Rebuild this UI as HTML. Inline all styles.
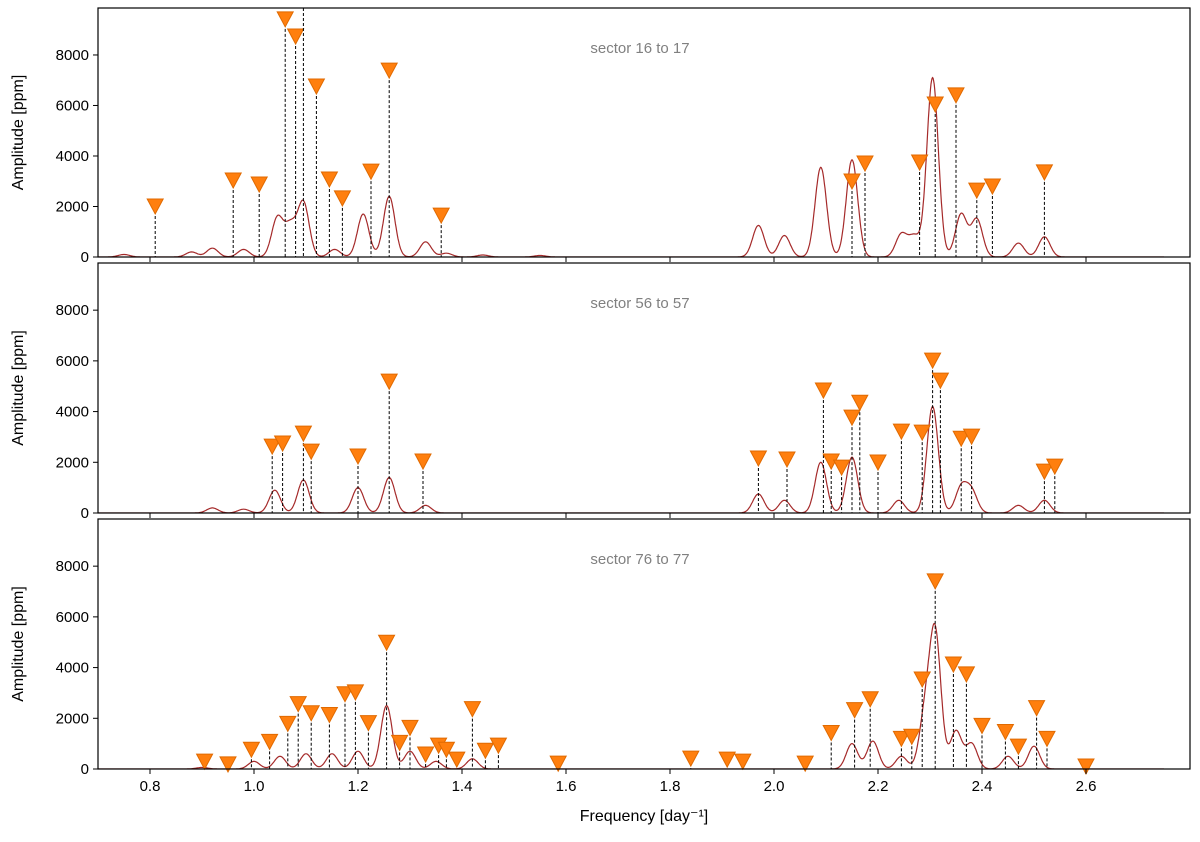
<!DOCTYPE html>
<html><head><meta charset="utf-8">
<style>
body{margin:0;background:#fff;}
svg text{font-family:"Liberation Sans","DejaVu Sans",sans-serif;}
</style></head>
<body>
<svg id="chart" width="1200" height="837" xmlns="http://www.w3.org/2000/svg"></svg>
<script>
const xTicks=[0.8,1.0,1.2,1.4,1.6,1.8,2.0,2.2,2.4,2.6];
const yTicks=[0,2000,4000,6000,8000];
const panelTitles=["sector 16 to 17","sector 56 to 57","sector 76 to 77"];
// spectrum peaks (freq, amp) per panel
const peakFreq1=[0.75,0.88,0.92,0.98,1.045,1.07,1.095,1.155,1.21,1.26,1.33,1.37,1.44,1.55,1.97,2.02,2.09,2.15,2.245,2.27,2.305,2.36,2.39,2.47,2.52];
const peakAmp1=[100,200,350,300,1550,1200,2150,300,1700,2400,600,150,80,60,1250,850,3550,3850,900,800,7100,1700,1500,550,800];
const peakFreq2=[0.92,0.98,1.04,1.095,1.2,1.26,1.33,1.97,2.02,2.09,2.15,2.24,2.305,2.36,2.38,2.47,2.52];
const peakAmp2=[200,150,900,1300,1000,1400,300,750,500,2000,2200,500,4200,1000,850,300,500];
const peakFreq3=[0.9,1.0,1.05,1.1,1.15,1.2,1.255,1.3,1.35,1.42,2.15,2.19,2.245,2.29,2.31,2.35,2.38,2.45,2.5];
const peakAmp3=[60,300,500,600,600,700,2500,700,300,400,1000,1100,500,2000,5300,1500,1000,500,900];
// marker (freq, amp) per panel
const markFreq1=[0.81,0.96,1.01,1.06,1.08,1.095,1.12,1.145,1.17,1.225,1.26,1.36,2.15,2.175,2.28,2.31,2.35,2.39,2.42,2.52];
const markAmp1=[2020,3050,2890,9430,8750,10500,6770,3090,2340,3400,7400,1660,3010,3720,3760,6060,6420,2650,2810,3370];
const markFreq2=[1.035,1.055,1.095,1.11,1.2,1.26,1.325,1.97,2.025,2.095,2.11,2.13,2.15,2.165,2.2,2.245,2.285,2.305,2.32,2.36,2.38,2.52,2.54];
const markAmp2=[2640,2760,3150,2440,2250,5200,2050,2170,2130,4850,2050,1810,3780,4370,2010,3230,3190,6030,5240,2950,3030,1650,1850];
const markFreq3=[0.905,0.95,0.995,1.03,1.065,1.085,1.11,1.145,1.175,1.195,1.22,1.255,1.28,1.3,1.33,1.355,1.37,1.39,1.42,1.445,1.47,1.585,1.84,1.91,1.94,2.06,2.11,2.155,2.185,2.245,2.265,2.285,2.31,2.345,2.37,2.4,2.445,2.47,2.505,2.525,2.6];
const markAmp3=[310,200,780,1090,1800,2580,2220,2150,2970,3040,1830,5000,1050,1640,590,940,780,390,2380,740,940,230,430,390,310,230,1440,2340,2770,1210,1290,3550,7420,4140,3750,1720,1480,900,2420,1210,120];

const NS="http://www.w3.org/2000/svg";
const svg=document.getElementById('chart');
function mk(tag,attrs,parent){const e=document.createElementNS(NS,tag);for(const k in attrs)e.setAttribute(k,attrs[k]);(parent||svg).appendChild(e);return e;}
const X0=98,X1=1190,XMIN=0.7,XMAX=2.8,YMAX=9860;
const xs=f=>X0+(f-XMIN)/(XMAX-XMIN)*(X1-X0);
const panels=[{top:8,bot:257},{top:263,bot:513},{top:519,bot:769}];
const peaksF=[peakFreq1,peakFreq2,peakFreq3],peaksA=[peakAmp1,peakAmp2,peakAmp3];
const marksF=[markFreq1,markFreq2,markFreq3],marksA=[markAmp1,markAmp2,markAmp3];
panels.forEach((p,i)=>{
  const ys=v=>p.bot-v/YMAX*(p.bot-p.top);
  const g=mk('g',{});
  
  
  const clipId='clip'+i;
  const cp=mk('clipPath',{id:clipId},g);mk('rect',{x:X0,y:p.top,width:X1-X0,height:p.bot-p.top},cp);
  // spectrum
  let d='';
  for(let f=XMIN;f<=2.75;f+=0.001){
    let v=0;const F=peaksF[i],A=peaksA[i];
    for(let k=0;k<F.length;k++){const z=(f-F[k])/0.011;v+=A[k]*Math.exp(-0.5*z*z);}
    d+=(d?'L':'M')+xs(f).toFixed(1)+','+ys(v).toFixed(1);
  }
  const line=mk('path',{d:d,fill:'none',stroke:'#a52a2a','stroke-width':1.2,'clip-path':`url(#${clipId})`},g);
  
  
  // markers
  const MF=marksF[i],MA=marksA[i];
  MF.forEach((f,k)=>{
    const x=xs(f),y=ys(MA[k]);
    const dl=mk('line',{x1:x,x2:x,y1:Math.max(y,p.top),y2:p.bot,stroke:'#000','stroke-width':1,'stroke-dasharray':'3,2'},g);
    
    
    if(y>p.top){
      const t=mk('polygon',{points:`${x-8},${y-7} ${x+8},${y-7} ${x},${y+8}`,fill:'#ff7f0e',stroke:'#e06a00','stroke-width':1},g);
      
      
    }
  });
  // frame
  const fr=mk('rect',{x:X0,y:p.top,width:X1-X0,height:p.bot-p.top,fill:'none',stroke:'#000','stroke-width':1.2},g);
  
  
  xTicks.forEach(t=>{
    const x=xs(t);mk('line',{x1:x,x2:x,y1:p.bot,y2:p.bot+5,stroke:'#000'},g);
    if(i===2){const tx=mk('text',{x:x,y:p.bot+22,'font-size':15,'text-anchor':'middle'},g);tx.textContent=t.toFixed(1);
      
      }
  });
  yTicks.forEach(t=>{
    const y=ys(t);mk('line',{x1:X0-5,x2:X0,y1:y,y2:y,stroke:'#000'},g);
    const ty=mk('text',{x:X0-9,y:y+5,'font-size':15,'text-anchor':'end'},g);ty.textContent=t;
    
    
  });
  const tt=mk('text',{x:640,y:p.top+45,'font-size':15,fill:'#808080','text-anchor':'middle'},g);tt.textContent=panelTitles[i];
  
  
  const yl=mk('text',{x:0,y:0,'font-size':16,'text-anchor':'middle',transform:`translate(23,${(p.top+p.bot)/2}) rotate(-90)`},g);yl.textContent='Amplitude [ppm]';
  
  
});
const xl=mk('text',{x:644,y:821,'font-size':16,'text-anchor':'middle'});xl.textContent='Frequency [day⁻¹]';


</script>
</body></html>
